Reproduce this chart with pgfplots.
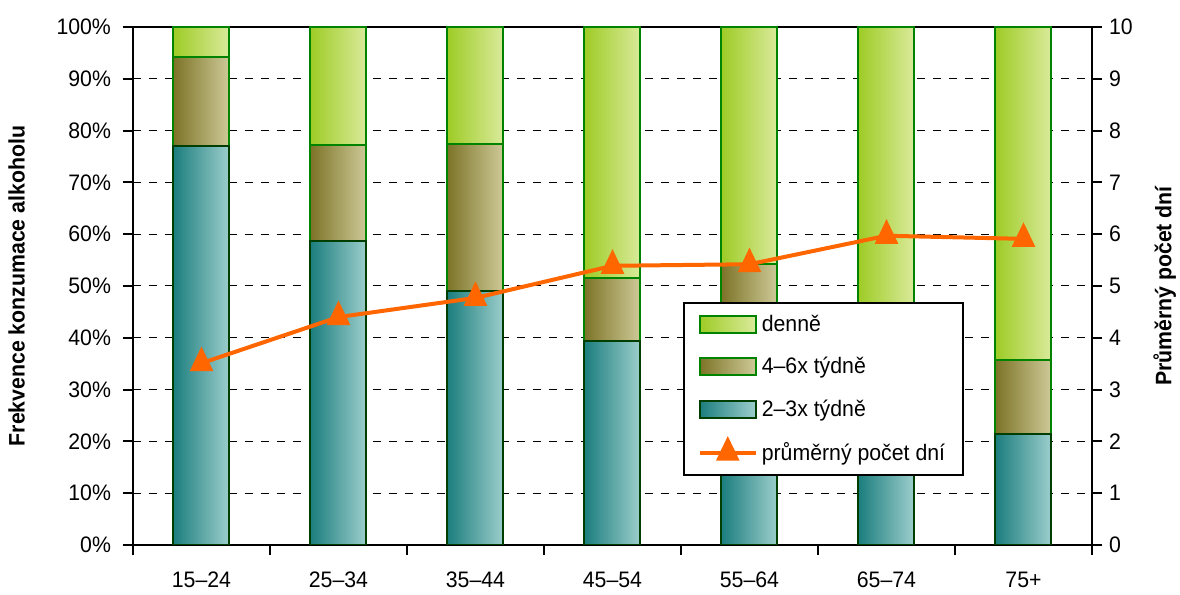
\documentclass[border=0pt]{standalone}
\usepackage{fontspec}
\setmainfont[FakeStretch=0.95]{Liberation Sans}
\usepackage{pgfplots}
\usepackage{pgfplotstable}
\pgfplotsset{compat=1.18}

\definecolor{denL}{RGB}{158,204,38}
\definecolor{denR}{RGB}{218,234,155}
\definecolor{ctyL}{RGB}{125,116,40}
\definecolor{ctyR}{RGB}{206,202,152}
\definecolor{dvaL}{RGB}{28,126,126}
\definecolor{dvaR}{RGB}{156,206,204}
\definecolor{okraj}{RGB}{0,132,0}
\definecolor{okrajT}{RGB}{0,62,0}
\definecolor{oranz}{RGB}{255,102,0}

\newcommand\tf{\fontsize{11.2}{13}\selectfont}

\pgfplotsset{
  carova legenda/.style={legend image code/.code={%
    \draw[##1, mark repeat=2, mark phase=2] plot coordinates {(0pt,0pt) (14pt,0pt) (28pt,0pt)};}},
  sloupec/.style={ybar, bar shift=0pt, bar width=28pt, line width=1pt},
}

% x: vekova skupina, a: 2-3x, b: 4-6x, c: denne, d: prumerny pocet dni
\pgfplotstableread{
x a b c d
0 77.0 17.2 5.8 3.51
1 58.7 18.5 22.8 4.40
2 49.0 28.4 22.6 4.77
3 39.4 12.1 48.5 5.39
4 32.0 22.2 45.8 5.42
5 28.0 16.0 56.0 5.97
6 21.4 14.3 64.3 5.91
}\data

\begin{document}
\begin{tikzpicture}
\useasboundingbox (-66.5pt,-25pt) rectangle (523.5pt,272.5pt);
\begin{axis}[
  at={(0pt,0pt)}, anchor=south west,
  scale only axis, width=479.5pt, height=259pt,
  xmin=-0.5, xmax=6.5, ymin=0, ymax=100,
  xtick={0,...,6},
  xticklabels={15–24,25–34,35–44,45–54,55–64,65–74,75+},
  xtick style={draw=none},
  extra x ticks={-0.5,0.5,...,6.5}, extra x tick labels={},
  extra x tick style={xtick style={draw=black}},
  ytick={0,10,...,100},
  yticklabel={\pgfmathprintnumber{\tick}\%},
  ytick pos=left, xtick pos=bottom,
  tick align=outside, major tick length=5pt,
  tick style={line width=1pt, black},
  ymajorgrids,
  grid style={black, line width=0.5pt, dash pattern=on 4pt off 4pt},
  axis line style={line width=1.2pt},
  /pgf/number format/assume math mode=true,
  tick label style={font=\tf},
  xticklabel style={yshift=-5pt},
  yticklabel style={xshift=-2.5pt},
  ylabel={Frekvence konzumace alkoholu},
  ylabel style={font=\tf\bfseries, yshift=9pt},
]
% kazdy sloupec zvlast, aby mel vlastni prechod barvy
\pgfplotsinvokeforeach{0,...,6}{
  \addplot[sloupec, draw=okraj, left color=denL, right color=denR,
    restrict x to domain=#1:#1]
    table[x=x, y expr=\thisrow{a}+\thisrow{b}+\thisrow{c}]{\data};
  \addplot[sloupec, draw=okraj, left color=ctyL, right color=ctyR,
    restrict x to domain=#1:#1]
    table[x=x, y expr=\thisrow{a}+\thisrow{b}]{\data};
  \addplot[sloupec, draw=okrajT, left color=dvaL, right color=dvaR,
    restrict x to domain=#1:#1]
    table[x=x, y=a]{\data};
}
\end{axis}
\begin{axis}[
  at={(0pt,0pt)}, anchor=south west,
  scale only axis, width=479.5pt, height=259pt,
  xmin=-0.5, xmax=6.5, ymin=0, ymax=10,
  axis x line=none, axis y line*=right,
  axis line style={line width=1.2pt, -},
  ytick={0,...,10},
  tick align=outside, major tick length=5pt,
  tick style={line width=1pt, black},
  /pgf/number format/assume math mode=true,
  tick label style={font=\tf},
  ylabel={Průměrný počet dní},
  ylabel style={font=\tf\bfseries, yshift=-3.5pt},
  legend style={at={(0.5735,0.469)}, anchor=north west, draw=black,
    line width=0.8pt, inner xsep=7pt, inner ysep=4pt, row sep=7.5pt,
    font=\tf, cells={anchor=west}},
]
\addlegendimage{legend image code/.code={\draw[draw=okraj, line width=1pt, left color=denL, right color=denR] (0pt,-4.25pt) rectangle (28pt,4.25pt);}}
\addlegendentry{denně}
\addlegendimage{legend image code/.code={\draw[draw=okraj, line width=1pt, left color=ctyL, right color=ctyR] (0pt,-4.25pt) rectangle (28pt,4.25pt);}}
\addlegendentry{4–6x týdně}
\addlegendimage{legend image code/.code={\draw[draw=okrajT, line width=1pt, left color=dvaL, right color=dvaR] (0pt,-4.25pt) rectangle (28pt,4.25pt);}}
\addlegendentry{2–3x týdně}
\addplot[oranz, line width=2pt, mark=triangle*, mark size=5pt,
  mark options={yscale=1.2, solid}, carova legenda]
  table[x=x,y=d]{\data};
\addlegendentry{průměrný počet dní}
\end{axis}
\end{tikzpicture}
\end{document}
